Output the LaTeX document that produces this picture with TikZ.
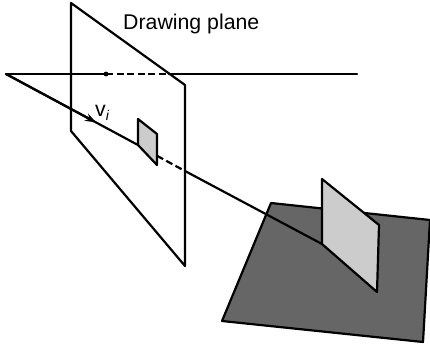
\documentclass[tikz,border=0pt]{standalone}
\usepackage{fontspec}
\setmainfont{Liberation Sans}
\usetikzlibrary{arrows.meta}
\tikzset{
  px/.style={x=1pt,y=-1pt},
  edge/.style={line width=2.2pt,line join=round,line cap=round,black},
  dashline/.style={edge,line cap=butt,dash pattern=on 7pt off 3.5pt},
  label/.style={inner sep=0pt,anchor=base west,font=\fontsize{21.3}{24}\selectfont},
}
\definecolor{ground}{gray}{0.4}
\definecolor{panel}{gray}{0.8}
\begin{document}
\begin{tikzpicture}[px]
\useasboundingbox (0,0) rectangle (430,348);
\fill[white] (0,0) rectangle (430,348);
% coordinates
\coordinate (eye) at (6,74);
\coordinate (rayend) at (357,74);
\coordinate (dot) at (106,74);
\coordinate (dashend) at (169,74);
\coordinate (planeA) at (71,3);
\coordinate (planeB) at (185,85);
\coordinate (planeC) at (185,266);
\coordinate (planeD) at (71,131);
\coordinate (smallA) at (138,119);
\coordinate (smallB) at (157,134);
\coordinate (smallC) at (157,165);
\coordinate (smallD) at (138,145);
\coordinate (bigA) at (322,179);
\coordinate (bigB) at (379,225);
\coordinate (bigC) at (377,292);
\coordinate (bigD) at (322,244);
\coordinate (gA) at (271,203);
\coordinate (gB) at (430,220);
\coordinate (gC) at (423,342);
\coordinate (gD) at (222,321);
\coordinate (arrowtip) at (96,122.4);
\coordinate (rayA) at (157,155.8);
\coordinate (rayB) at (185,171);
% ground
\draw[edge,fill=ground] (gA) -- (gB) -- (gC) -- (gD) -- cycle;
% plane
\draw[edge] (planeD) -- (planeA) -- (planeB) -- (planeC) -- cycle;
% horizontal ray
\draw[edge] (eye) -- (dot);
\draw[dashline] (dot) -- (dashend);
\draw[edge] (dashend) -- (rayend);
\fill (dot) circle (2.4pt);
% slanted ray
\draw[edge] (eye) -- (smallD);
\draw[edge,line cap=butt,-{Stealth[length=11pt,width=8pt]}] (eye) -- (arrowtip);
\draw[dashline] (rayA) -- (rayB);
\draw[edge] (rayB) -- (bigD);
% small panel
\draw[edge,fill=panel] (smallA) -- (smallB) -- (smallC) -- (smallD) -- cycle;
% big panel
\draw[edge,fill=panel] (bigA) -- (bigB) -- (bigC) -- (bigD) -- cycle;
% labels
\node[label] (title) at (123,29) {Drawing plane};
\node[label] (vi) at (95,116) {v\raisebox{-4.5pt}{\fontsize{14}{16}\selectfont\itshape i}};
\end{tikzpicture}
\end{document}
